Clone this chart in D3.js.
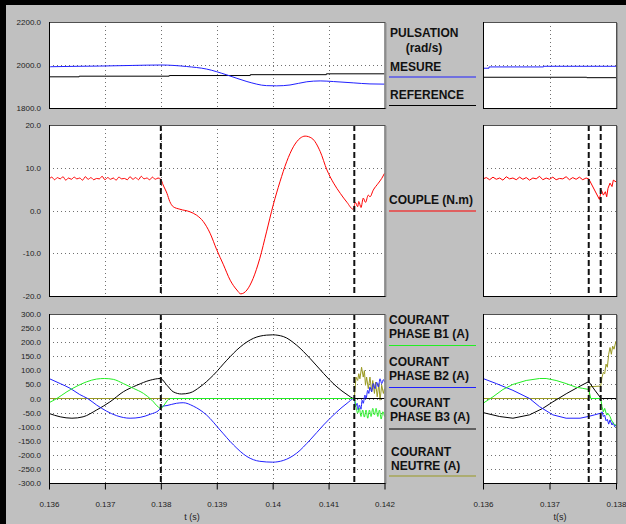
<!DOCTYPE html>
<html><head><meta charset="utf-8">
<script src="https://cdn.jsdelivr.net/npm/d3@7/dist/d3.min.js"></script>
<style>
body{margin:0;background:#c0c0c0;}
svg{display:block;font-family:"Liberation Sans",Arial,sans-serif;}
</style>
</head><body>
<svg id="c" width="626" height="524"></svg>
<script>
// ---------- tick values / labels ----------
const leftTimeTicks = [0.136,0.137,0.138,0.139,0.14,0.141,0.142];
const leftTimeLabels = ["0.136","0.137","0.138","0.139","0.14","0.141","0.142"];
const rightTimeTicks = [0.136,0.137,0.138];
const rightTimeLabels = ["0.136","0.137","0.138"];
const pulsationTicks = [1800,2000,2200];
const pulsationLabels = ["1800.0","2000.0","2200.0"];
const coupleTicks = [-20,-10,0,10,20];
const coupleLabels = ["-20.0","-10.0","0.0","10.0","20.0"];
const courantTicks = [-300,-250,-200,-150,-100,-50,0,50,100,150,200,250,300];
const courantLabels = ["-300.0","-250.0","-200.0","-150.0","-100.0","-50.0","0.0","50.0","100.0","150.0","200.0","250.0","300.0"];

// ---------- event instants (dashed lines) ----------
const eventsLeft = [0.1380, 0.14146];
const eventsRight = [0.13759, 0.13777];

// ---------- PULSATION (rad/s) ----------
const mesureLeft = [[0.1360,1989],[0.13603,1992],[0.1369,1995],[0.1375,1998],[0.1380,2000],[0.13846,1993],[0.13882,1981],[0.13918,1954],[0.13954,1923],[0.13989,1904],[0.14007,1903],[0.14031,1907],[0.14061,1922],[0.14085,1926],[0.14109,1923],[0.14144,1917],[0.14174,1912],[0.1420,1911]];
const referenceLeft = [[0.1360,1945],[0.13654,1948],[0.13815,1951],[0.13960,1955],[0.14096,1959],[0.1420,1959]];
const mesureRight = [[0.1360,1985],[0.13609,1991],[0.13691,1994],[0.1380,1994]];
const referenceRight = [[0.1360,1943],[0.13756,1941],[0.1380,1941]];

// ---------- COUPLE (N.m) ----------
const coupleLeft = [[0.13600,7.3],[0.13605,7.8],[0.13610,7.2],[0.13615,7.7],[0.13620,7.4],[0.13625,7.9],[0.13630,7.1],[0.13635,7.6],[0.13640,7.3],[0.13645,7.8],[0.13650,7.4],[0.13655,7.6],[0.13660,7.1],[0.13665,7.9],[0.13670,7.3],[0.13675,7.7],[0.13680,7.2],[0.13685,7.5],[0.13690,7.4],[0.13695,8.0],[0.13700,7.2],[0.13705,7.7],[0.13710,7.3],[0.13715,7.6],[0.13720,7.1],[0.13725,7.8],[0.13730,7.4],[0.13735,7.5],[0.13740,7.2],[0.13745,7.9],[0.13750,7.3],[0.13755,7.7],[0.13760,7.2],[0.13765,8.0],[0.13770,7.4],[0.13775,7.6],[0.13780,7.2],[0.13785,7.8],[0.13790,7.3],[0.13795,7.6],[0.13800,7.3],
 [0.13804,6.0],[0.13811,4.0],[0.13816,2.1],[0.13822,0.9],[0.13834,0.3],[0.13852,-0.3],[0.13864,-1.1],[0.13876,-2.6],[0.13888,-5.3],[0.13900,-9.2],[0.13912,-12.7],[0.13924,-16.3],[0.13936,-18.6],[0.13943,-19.5],[0.13954,-18.6],[0.13965,-15.9],[0.13977,-11.2],[0.13989,-5.0],[0.14001,1.3],[0.14013,6.7],[0.14025,11.4],[0.14037,14.9],[0.14049,16.9],[0.14058,17.4],[0.14070,16.9],[0.14085,13.8],[0.14097,9.5],[0.14109,6.4],[0.14121,4.0],[0.14133,1.9],[0.14144,0.3],[0.14148,1.9],[0.14152,0.9],[0.14154,2.1],[0.14158,0.7],[0.14162,2.9],[0.14166,1.9],[0.14171,3.6],[0.14174,3.2],[0.14180,4.8],[0.14189,6.4],[0.14195,7.5],[0.14200,8.7]];
const coupleRight = [[0.13600,7.4],[0.13605,7.7],[0.13610,7.2],[0.13615,7.8],[0.13620,7.3],[0.13625,7.6],[0.13630,7.1],[0.13635,7.9],[0.13640,7.4],[0.13645,7.6],[0.13650,7.2],[0.13655,7.8],[0.13660,7.3],[0.13665,7.7],[0.13670,7.1],[0.13675,7.6],[0.13680,7.4],[0.13685,8.0],[0.13690,7.2],[0.13695,7.6],[0.13700,7.3],[0.13705,7.8],[0.13710,7.2],[0.13715,7.5],[0.13720,7.4],[0.13725,7.9],[0.13730,7.2],[0.13735,7.7],[0.13740,7.3],[0.13745,7.8],[0.13750,7.2],[0.13755,7.6],[0.13759,7.4],
 [0.13775,2.6],[0.13778,4.8],[0.13781,3.6],[0.13784,4.4],[0.13786,3.2],[0.13788,5.2],[0.13791,6.4],[0.13794,5.6],[0.13796,7.1],[0.13800,6.7]];

// ---------- COURANTS (A) ----------
const phaseB1Left = [[0.1360,-15],[0.13614,0],[0.13632,24],[0.13650,44],[0.13667,59],[0.13685,69],[0.13699,71],[0.13715,68],[0.13733,53],[0.13751,36],[0.13769,18],[0.13784,-6],[0.13796,-31],[0.13800,-35],[0.13806,-23],[0.13811,-9],[0.13816,0],[0.14146,0],[0.14149,-29],[0.14152,-52],[0.14155,-35],[0.14158,-64],[0.14161,-41],[0.14164,-66],[0.14167,-41],[0.14170,-70],[0.14173,-41],[0.14176,-64],[0.14179,-35],[0.14182,-58],[0.14185,-35],[0.14188,-64],[0.14191,-41],[0.14194,-73],[0.14197,-47],[0.14200,-64]];
const phaseB2Left = [[0.1360,71],[0.13620,53],[0.13638,36],[0.13655,14],[0.13669,0],[0.13685,-23],[0.13703,-45],[0.13721,-61],[0.13745,-70],[0.13763,-67],[0.13781,-56],[0.13797,-41],[0.13800,-29],[0.13811,-25],[0.13828,-17],[0.13840,-15],[0.13858,-27],[0.13882,-59],[0.13906,-112],[0.13930,-165],[0.13954,-206],[0.13977,-223],[0.14000,-226],[0.14019,-220],[0.14043,-194],[0.14067,-147],[0.14091,-94],[0.14115,-47],[0.14133,-17],[0.14146,0],[0.14148,-29],[0.14151,-17],[0.14153,-41],[0.14155,-23],[0.14158,-38],[0.14160,-6],[0.14162,-17],[0.14165,12],[0.14167,0],[0.14170,29],[0.14172,18],[0.14174,41],[0.14177,24],[0.14180,53],[0.14183,35],[0.14186,58],[0.14189,41],[0.14192,70],[0.14195,53],[0.14198,67],[0.14200,58]];
const phaseB3Left = [[0.1360,-53],[0.13620,-65],[0.13641,-70],[0.13661,-65],[0.13685,-41],[0.13709,-12],[0.13733,24],[0.13757,47],[0.13781,65],[0.13799,71],[0.13811,47],[0.13822,24],[0.13837,16],[0.13852,20],[0.13870,41],[0.13894,83],[0.13918,136],[0.13942,183],[0.13966,214],[0.13989,225],[0.14000,226],[0.14019,220],[0.14043,189],[0.14067,142],[0.14091,89],[0.14115,41],[0.14133,14],[0.14146,0],[0.14200,0]];
const neutreLeft = [[0.1360,0],[0.14146,0],[0.14149,76],[0.14152,64],[0.14154,88],[0.14156,70],[0.14159,111],[0.14162,76],[0.14164,99],[0.14166,47],[0.14168,76],[0.14171,35],[0.14174,76],[0.14177,24],[0.14179,64],[0.14182,18],[0.14184,58],[0.14187,6],[0.14190,53],[0.14192,-6],[0.14195,47],[0.14198,18],[0.14200,35]];

const phaseB1Right = [[0.1360,-17],[0.13615,6],[0.13630,32],[0.13645,50],[0.13665,64],[0.13685,71],[0.13695,71],[0.13710,64],[0.13725,53],[0.13740,40],[0.13750,36],[0.13759,32],[0.13762,0],[0.13777,0],[0.13779,-29],[0.13781,-47],[0.13783,-35],[0.13786,-59],[0.13788,-53],[0.13791,-64],[0.13793,-76],[0.13796,-88],[0.13798,-93],[0.13800,-95]];
const phaseB2Right = [[0.1360,71],[0.13620,53],[0.13645,29],[0.13670,0],[0.13685,-29],[0.13705,-58],[0.13725,-70],[0.13746,-70],[0.13758,-64],[0.13768,-58],[0.13777,-52],[0.13779,-47],[0.13781,-64],[0.13783,-59],[0.13785,-79],[0.13787,-74],[0.13789,-91],[0.13791,-76],[0.13794,-94],[0.13796,-86],[0.13798,-100],[0.13800,-93]];
const phaseB3Right = [[0.1360,-50],[0.13625,-64],[0.13645,-70],[0.13670,-58],[0.13690,-35],[0.13705,-12],[0.13726,18],[0.13746,44],[0.13759,60],[0.13768,30],[0.13776,5],[0.13778,0],[0.13800,0]];
const neutreRight = [[0.1360,0],[0.13759,0],[0.13761,42],[0.13777,44],[0.13779,76],[0.13781,93],[0.13783,88],[0.13785,122],[0.13787,111],[0.13789,157],[0.13791,181],[0.13793,157],[0.13795,186],[0.13797,175],[0.13800,204]];

// ---------- drawing ----------
const svg = d3.select("#c");
svg.append("rect").attr("width",626).attr("height",524).attr("fill","#c0c0c0");
svg.append("rect").attr("x",0).attr("y",0).attr("width",626).attr("height",5).attr("fill","#000");
svg.append("rect").attr("x",0).attr("y",0).attr("width",6).attr("height",524).attr("fill","#000");

const COL = {blue:"#2020ff", black:"#000000", red:"#ff0000", green:"#22ee22", olive:"#999922"};
let clipId = 0;

function panel(o){
  const x = d3.scaleLinear().domain(o.xDomain).range([o.left,o.right]);
  const y = d3.scaleLinear().domain(o.yDomain).range([o.bottom,o.top]);
  const g = svg.append("g");
  g.append("rect").attr("x",o.left).attr("y",o.top).attr("width",o.right-o.left).attr("height",o.bottom-o.top).attr("fill","#fff");
  g.selectAll(null).data(o.xGrid).join("line")
    .attr("x1",d=>Math.round(x(d))+0.5).attr("x2",d=>Math.round(x(d))+0.5)
    .attr("y1",o.top).attr("y2",o.bottom)
    .attr("stroke","#707070").attr("stroke-dasharray","1,3");
  g.selectAll(null).data(o.yGrid).join("line")
    .attr("y1",d=>Math.round(y(d))+0.5).attr("y2",d=>Math.round(y(d))+0.5)
    .attr("x1",o.left).attr("x2",o.right)
    .attr("stroke","#707070").attr("stroke-dasharray","1,3");
  const id = "clip"+(clipId++);
  svg.append("clipPath").attr("id",id).append("rect")
    .attr("x",o.left).attr("y",o.top).attr("width",o.right-o.left).attr("height",o.bottom-o.top);
  const sg = g.append("g").attr("clip-path",`url(#${id})`);
  o.series.forEach(s=>{
    const line = d3.line().x(d=>x(d[0])).y(d=>y(d[1])).curve(s.curve||d3.curveMonotoneX);
    sg.append("path").datum(s.data).attr("d",line).attr("fill","none")
      .attr("stroke",s.color).attr("stroke-width",1);
  });
  (o.events||[]).forEach(t=>{
    sg.append("line").attr("x1",x(t)).attr("x2",x(t)).attr("y1",o.top).attr("y2",o.bottom)
      .attr("stroke","#111").attr("stroke-width",2).attr("stroke-dasharray","6,3");
  });
  g.append("rect").attr("x",o.left+0.5).attr("y",o.top+0.5).attr("width",o.right-o.left).attr("height",o.bottom-o.top)
    .attr("fill","none").attr("stroke","#505050");
  g.append("line").attr("x1",o.right+1.5).attr("x2",o.right+1.5).attr("y1",o.top+1).attr("y2",o.bottom+1).attr("stroke","#909090");
  g.append("line").attr("x1",o.left+0.5).attr("x2",o.left+0.5).attr("y1",o.top).attr("y2",o.bottom+1).attr("stroke","#000");
  g.append("line").attr("x1",o.left).attr("x2",o.right+1).attr("y1",o.bottom+0.5).attr("y2",o.bottom+0.5).attr("stroke","#000");
  if(o.yTicks){
    const ya = d3.axisLeft(y).tickValues(o.yTicks).tickFormat((d,i)=>o.yLabels[i]).tickSize(0).tickPadding(8);
    const ag = g.append("g").attr("transform",`translate(${o.left},0)`).call(ya);
    ag.select(".domain").remove();
    ag.selectAll("text").attr("font-size",8).attr("fill","#222").attr("font-family","Liberation Sans, Arial, sans-serif");
  }
  if(o.xTicks){
    const xa = d3.axisBottom(x).tickValues(o.xTicks).tickFormat((d,i)=>o.xLabels[i]).tickSize(6).tickPadding(12);
    const ag = g.append("g").attr("transform",`translate(0,${o.bottom+0.5})`).call(xa);
    ag.select(".domain").remove();
    ag.selectAll("line").attr("stroke","#000");
    ag.selectAll("text").attr("font-size",8).attr("fill","#222").attr("font-family","Liberation Sans, Arial, sans-serif");
  }
  return {x,y};
}

const LX = [49,384.5], RX = [483,616];
const TOP = [22,108], MID = [125,296], BOT = [314,483];
const interiorLeft = leftTimeTicks.slice(1,-1);
const interiorRight = rightTimeTicks.slice(1,-1);

panel({left:LX[0],right:LX[1],top:TOP[0],bottom:TOP[1],xDomain:[0.136,0.142],yDomain:[1800,2200],
  xGrid:interiorLeft,yGrid:[2000],yTicks:pulsationTicks,yLabels:pulsationLabels,
  series:[{data:referenceLeft,color:COL.black,curve:d3.curveStepAfter},{data:mesureLeft,color:COL.blue}]});
panel({left:RX[0],right:RX[1],top:TOP[0],bottom:TOP[1],xDomain:[0.136,0.138],yDomain:[1800,2200],
  xGrid:interiorRight,yGrid:[2000],
  series:[{data:referenceRight,color:COL.black,curve:d3.curveStepAfter},{data:mesureRight,color:COL.blue,curve:d3.curveStepAfter}]});
panel({left:LX[0],right:LX[1],top:MID[0],bottom:MID[1],xDomain:[0.136,0.142],yDomain:[-20,20],
  xGrid:interiorLeft,yGrid:[-10,0,10],yTicks:coupleTicks,yLabels:coupleLabels,events:eventsLeft,
  series:[{data:coupleLeft,color:COL.red}]});
panel({left:RX[0],right:RX[1],top:MID[0],bottom:MID[1],xDomain:[0.136,0.138],yDomain:[-20,20],
  xGrid:interiorRight,yGrid:[-10,0,10],events:eventsRight,
  series:[{data:coupleRight,color:COL.red,curve:d3.curveLinear}]});
panel({left:LX[0],right:LX[1],top:BOT[0],bottom:BOT[1],xDomain:[0.136,0.142],yDomain:[-300,300],
  xGrid:interiorLeft,yGrid:courantTicks.slice(1,-1),yTicks:courantTicks,yLabels:courantLabels,
  xTicks:leftTimeTicks,xLabels:leftTimeLabels,events:eventsLeft,
  series:[{data:neutreLeft,color:COL.olive,curve:d3.curveLinear},{data:phaseB3Left,color:COL.black},
          {data:phaseB2Left,color:COL.blue},{data:phaseB1Left,color:COL.green}]});
panel({left:RX[0],right:RX[1],top:BOT[0],bottom:BOT[1],xDomain:[0.136,0.138],yDomain:[-300,300],
  xGrid:interiorRight,yGrid:courantTicks.slice(1,-1),
  xTicks:rightTimeTicks,xLabels:rightTimeLabels,events:eventsRight,
  series:[{data:neutreRight,color:COL.olive,curve:d3.curveLinear},{data:phaseB3Right,color:COL.black,curve:d3.curveLinear},
          {data:phaseB2Right,color:COL.blue,curve:d3.curveLinear},{data:phaseB1Right,color:COL.green,curve:d3.curveLinear}]});

svg.append("text").attr("x",192).attr("y",520).attr("text-anchor","middle").attr("font-size",9).attr("fill","#222").text("t (s)");
svg.append("text").attr("x",560).attr("y",520).attr("text-anchor","middle").attr("font-size",9).attr("fill","#222").text("t(s)");

const legendTexts = [
  {t:"PULSATION",x:390,y:37},{t:"(rad/s)",x:424,y:52,anchor:"middle"},
  {t:"MESURE",x:390,y:71},{t:"REFERENCE",x:390,y:99},
  {t:"COUPLE (N.m)",x:389,y:204},
  {t:"COURANT",x:389,y:324},{t:"PHASE B1 (A)",x:389,y:337.5},
  {t:"COURANT",x:389,y:366},{t:"PHASE B2 (A)",x:389,y:380},
  {t:"COURANT",x:390,y:407},{t:"PHASE B3 (A)",x:390,y:421},
  {t:"COURANT",x:391,y:456},{t:"NEUTRE (A)",x:391,y:470}
];
svg.selectAll(null).data(legendTexts).join("text")
  .attr("x",d=>d.x).attr("y",d=>d.y).attr("text-anchor",d=>d.anchor||"start")
  .attr("font-size",12).attr("font-weight","bold").attr("fill","#111").text(d=>d.t);
const legendLines = [
  {y:77,c:COL.blue},{y:105.5,c:COL.black},{y:211,c:COL.red},
  {y:345.5,c:COL.green},{y:387.5,c:COL.blue},{y:429,c:COL.black},{y:476,c:COL.olive}
];
svg.selectAll(null).data(legendLines).join("line")
  .attr("x1",389).attr("x2",476).attr("y1",d=>d.y).attr("y2",d=>d.y)
  .attr("stroke",d=>d.c).attr("stroke-width",1);
</script>
</body></html>
